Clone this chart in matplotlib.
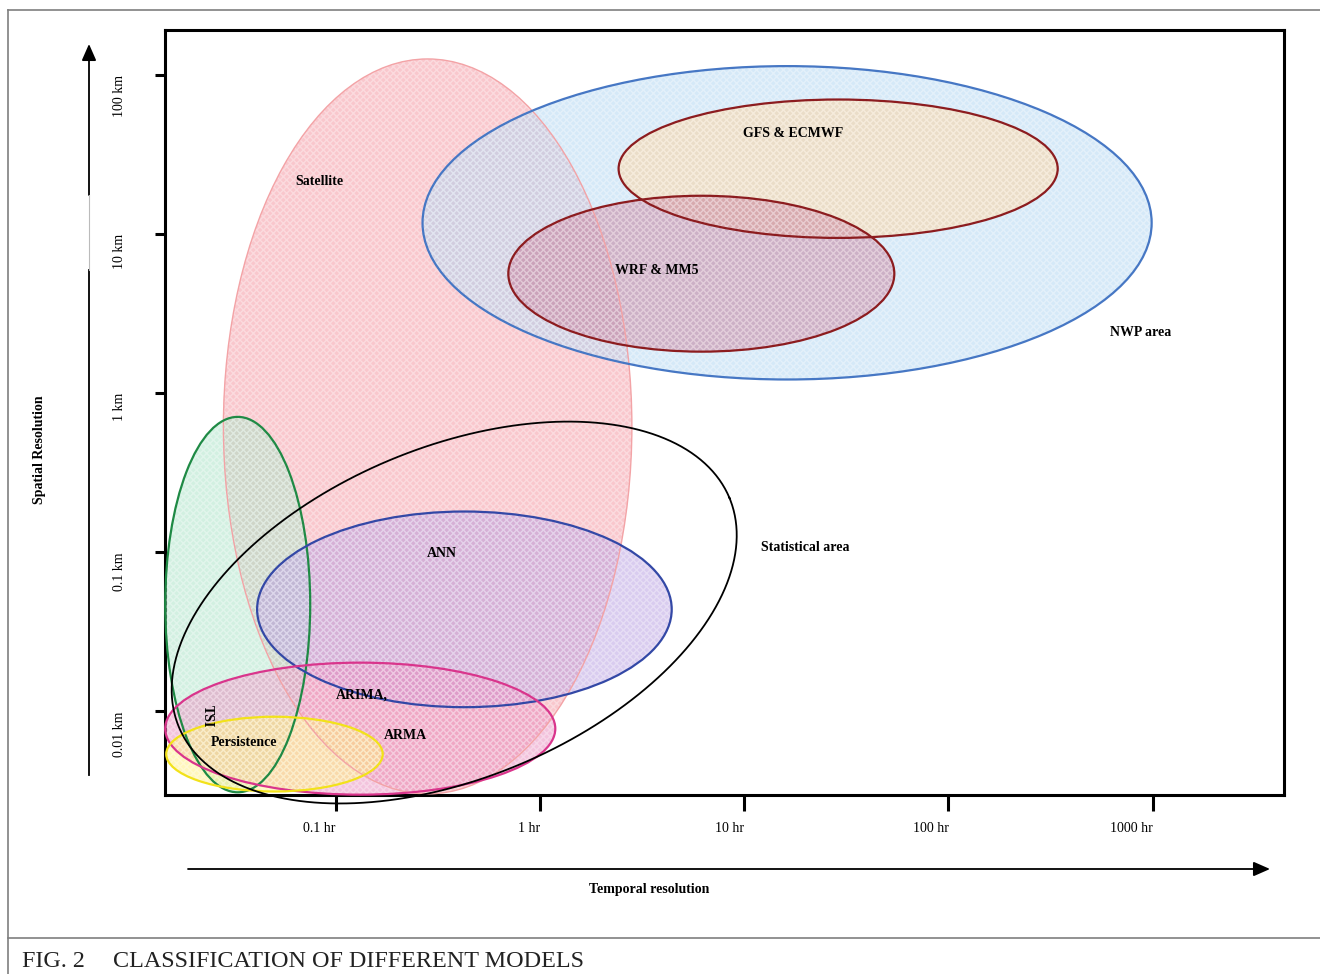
import numpy as np
import matplotlib
matplotlib.use("Agg")
import matplotlib.pyplot as plt
from matplotlib.patches import Ellipse
from matplotlib.lines import Line2D
from matplotlib.transforms import IdentityTransform

plt.rcParams['font.family'] = ['Liberation Serif', 'DejaVu Serif']

# ---------------- data (x = log10 hours, y = log10 km) ----------------
x_ticks = [-1, 0, 1, 2, 3]
x_tick_labels = ['0.1 hr', '1 hr', '10 hr', '100 hr', '1000 hr']
y_ticks = [2, 1, 0, -1, -2]
y_tick_labels = ['100 km', '10 km', '1 km', '0.1 km', '0.01 km']

area_names = ['Satellite', 'NWP area', 'GFS & ECMWF', 'WRF & MM5', 'TSI', 'ANN', 'ARIMA', 'Persistence']
area_center_x = [-0.55, 1.21, 1.46, 0.79, -1.48, -0.37, -0.88, -1.30]
area_center_y = [-0.21, 1.07, 1.41, 0.75, -1.33, -1.36, -2.11, -2.27]
area_width = [2.00, 3.57, 2.15, 1.89, 0.71, 2.03, 1.91, 1.06]
area_height = [4.62, 1.97, 0.87, 0.98, 2.36, 1.23, 0.83, 0.47]
area_edge = ['#f3a3a6', '#4677c4', '#8c1c1f', '#8c1c1f', '#1f8a45', '#3348a6', '#d9358c', '#f2e21a']
area_fill = ['#f5909c', '#acd4f2', '#ffd39a', '#c57896', '#a6e3c4', '#b59ae0', '#e889bd', '#fff07a']
area_lw = [1.0, 1.6, 1.6, 1.6, 1.6, 1.6, 1.6, 1.6]

stat_center = (-0.42, -1.38)
stat_semi_axes = (1.46, 0.81)   # in x-decade units, isotropic in display
stat_angle = 22.6

label_text = ['Satellite', 'GFS & ECMWF', 'WRF & MM5', 'NWP area', 'Statistical area',
              'ANN', 'ARIMA,', 'ARMA', 'TSI', 'Persistence']
label_x = [-1.08, 1.24, 0.57, 2.94, 1.30, -0.48, -0.87, -0.66, -1.63, -1.45]
label_y = [1.33, 1.63, 0.77, 0.38, -0.97, -1.01, -1.90, -2.15, -2.03, -2.20]
label_rot = [0, 0, 0, 0, 0, 0, 0, 0, -90, 0]

xlim = (-1.836, 3.643)
ylim = (-2.527, 2.282)

# ---------------- figure ----------------
W, H = 1320, 974
fig = plt.figure(figsize=(W / 100, H / 100), dpi=100)
ax_rect = [165 / W, 1 - 795 / H, (1284 - 165) / W, (795 - 30) / H]
ax = fig.add_axes(ax_rect)
ax.set_xlim(*xlim)
ax.set_ylim(*ylim)

for s in ax.spines.values():
    s.set_linewidth(2.2)
    s.set_color('black')

ax.set_xticks(x_ticks)
ax.set_xticklabels(x_tick_labels, fontsize=10, ha='right')
ax.set_yticks(y_ticks)
ax.set_yticklabels(y_tick_labels, fontsize=10, rotation=90, va='top', ha='right')
ax.tick_params(axis='x', direction='out', length=11.5, width=2.2, pad=8)
ax.tick_params(axis='y', direction='out', length=7.2, width=2.2, pad=21)

# ellipses
for i in range(len(area_names)):
    e = Ellipse((area_center_x[i], area_center_y[i]), area_width[i], area_height[i],
                facecolor=area_fill[i], alpha=0.5, edgecolor='none', clip_on=False, zorder=2 + i)
    ax.add_patch(e)
    h = Ellipse((area_center_x[i], area_center_y[i]), area_width[i], area_height[i],
                facecolor='none', edgecolor='white', alpha=0.35, hatch='xxxxx', lw=0,
                clip_on=False, zorder=2 + i)
    ax.add_patch(h)
    o = Ellipse((area_center_x[i], area_center_y[i]), area_width[i], area_height[i],
                facecolor='none', edgecolor=area_edge[i], lw=area_lw[i], clip_on=False, zorder=20)
    ax.add_patch(o)

# tilted statistical ellipse (isotropic in display)
sx = W * ax_rect[2] / (xlim[1] - xlim[0])
sy = H * ax_rect[3] / (ylim[1] - ylim[0])
t = np.linspace(0, 2 * np.pi, 400)
th = np.deg2rad(stat_angle)
a, b = stat_semi_axes
dx = a * np.cos(t) * np.cos(th) - b * np.sin(t) * np.sin(th)
dy = (a * np.cos(t) * np.sin(th) + b * np.sin(t) * np.cos(th)) * sx / sy
ax.plot(stat_center[0] + dx, stat_center[1] + dy, color='black', lw=1.3, clip_on=False, zorder=21)

for txt, x, y, r in zip(label_text, label_x, label_y, label_rot):
    ax.text(x, y, txt, fontsize=10, fontweight='bold', ha='center', va='center',
            rotation=r, zorder=30)

# ---------------- outer arrows and labels ----------------
idt = IdentityTransform()
def px(x, y):
    return x, H - y

# y arrow
fig.add_artist(Line2D([89, 89], [H - 775, H - 270], color='black', lw=1.3, transform=idt))
fig.add_artist(Line2D([89, 89], [H - 270, H - 195], color='#bbbbbb', lw=0.8, transform=idt))
ax.annotate('', xy=px(89, 44), xytext=px(89, 195), xycoords='figure pixels',
            textcoords='figure pixels',
            arrowprops=dict(arrowstyle='-|>,head_length=0.5,head_width=0.22', lw=1.3,
                            color='black', mutation_scale=20, shrinkA=0, shrinkB=0),
            annotation_clip=False)
# x arrow
ax.annotate('', xy=px(1270, 869), xytext=px(188, 869), xycoords='figure pixels',
            textcoords='figure pixels',
            arrowprops=dict(arrowstyle='-|>,head_length=0.5,head_width=0.22', lw=1.3,
                            color='black', mutation_scale=20, shrinkA=0, shrinkB=0),
            annotation_clip=False)

fig.text(40 / W, 1 - 450 / H, 'Spatial Resolution', rotation=90, fontsize=10,
         fontweight='bold', ha='center', va='center')
fig.text(649 / W, 1 - 889 / H, 'Temporal resolution', fontsize=10,
         fontweight='bold', ha='center', va='center')

# page frame
fig.add_artist(Line2D([8, W], [H - 10, H - 10], color='#7f7f7f', lw=1.2, transform=idt))
fig.add_artist(Line2D([8, 8], [0, H - 10], color='#7f7f7f', lw=1.2, transform=idt))
fig.add_artist(Line2D([8, W], [H - 938, H - 938], color='#7f7f7f', lw=1.2, transform=idt))

fig.text(22 / W, 1 - 967 / H, 'FIG. 2', fontsize=17.4, ha='left', va='baseline', color='#222222')
fig.text(113 / W, 1 - 967 / H, 'CLASSIFICATION OF DIFFERENT MODELS', fontsize=17.4,
         ha='left', va='baseline', color='#222222')

fig.savefig('out.png', dpi=100)
